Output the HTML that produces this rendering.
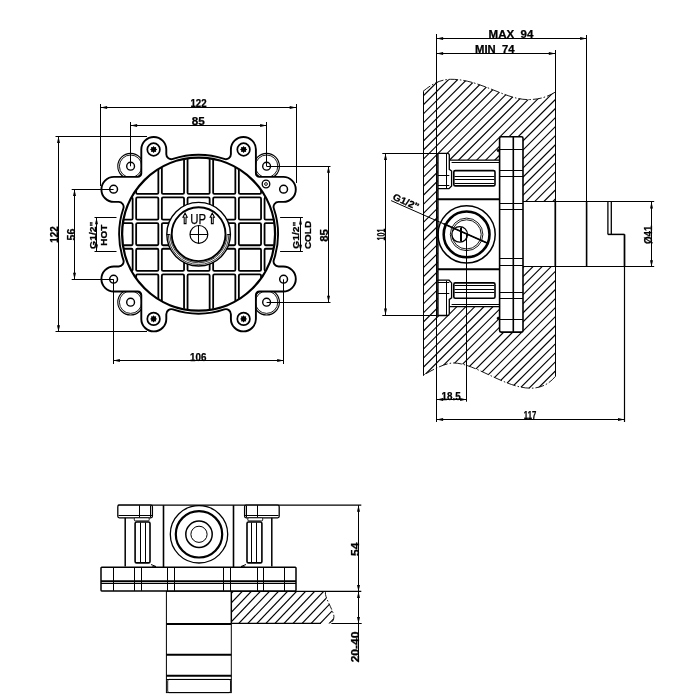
<!DOCTYPE html>
<html><head><meta charset="utf-8"><style>
html,body{margin:0;padding:0;background:#fff;}
svg{display:block;will-change:transform;}
text{font-family:"Liberation Sans",sans-serif;fill:#000;stroke:#000;stroke-width:0.25px;}
</style></head><body>
<svg width="700" height="700" viewBox="0 0 700 700">
<rect width="700" height="700" fill="#fff"/>
<circle cx="130.6" cy="166.2" r="12.8" stroke="#000" stroke-width="1.1" fill="none"/>
<circle cx="130.6" cy="166.2" r="11.2" stroke="#000" stroke-width="0.9" fill="none"/>
<circle cx="130.6" cy="302.2" r="12.8" stroke="#000" stroke-width="1.1" fill="none"/>
<circle cx="130.6" cy="302.2" r="11.2" stroke="#000" stroke-width="0.9" fill="none"/>
<circle cx="266.6" cy="166.2" r="12.8" stroke="#000" stroke-width="1.1" fill="none"/>
<circle cx="266.6" cy="166.2" r="11.2" stroke="#000" stroke-width="0.9" fill="none"/>
<circle cx="266.6" cy="302.2" r="12.8" stroke="#000" stroke-width="1.1" fill="none"/>
<circle cx="266.6" cy="302.2" r="11.2" stroke="#000" stroke-width="0.9" fill="none"/>
<path d="M198.6 154.7A79.5 79.5 0 0 1 224.28 158.96A5 5 0 0 0 230.9 154.23L230.9 149.5A12.5 12.5 0 0 1 255.9 149.5L255.9 173.4A3.5 3.5 0 0 0 259.4 176.9L283.3 176.9A12.5 12.5 0 0 1 283.3 201.9L278.57 201.9A5 5 0 0 0 273.84 208.52A79.5 79.5 0 0 1 278.1 234.2A79.5 79.5 0 0 1 273.84 259.88A5 5 0 0 0 278.57 266.5L283.3 266.5A12.5 12.5 0 0 1 283.3 291.5L259.4 291.5A3.5 3.5 0 0 0 255.9 295L255.9 318.9A12.5 12.5 0 0 1 230.9 318.9L230.9 314.17A5 5 0 0 0 224.28 309.44A79.5 79.5 0 0 1 198.6 313.7A79.5 79.5 0 0 1 172.92 309.44A5 5 0 0 0 166.3 314.17L166.3 318.9A12.5 12.5 0 0 1 141.3 318.9L141.3 295A3.5 3.5 0 0 0 137.8 291.5L113.9 291.5A12.5 12.5 0 0 1 113.9 266.5L118.63 266.5A5 5 0 0 0 123.36 259.88A79.5 79.5 0 0 1 119.1 234.2A79.5 79.5 0 0 1 123.36 208.52A5 5 0 0 0 118.63 201.9L113.9 201.9A12.5 12.5 0 0 1 113.9 176.9L137.8 176.9A3.5 3.5 0 0 0 141.3 173.4L141.3 149.5A12.5 12.5 0 0 1 166.3 149.5L166.3 154.23A5 5 0 0 0 172.92 158.96A79.5 79.5 0 0 1 198.6 154.7Z" stroke="#000" stroke-width="1.9" fill="#fff" />
<circle cx="130.6" cy="166.2" r="3.9" stroke="#000" stroke-width="1.4" fill="#fff"/>
<circle cx="130.6" cy="302.2" r="3.9" stroke="#000" stroke-width="1.4" fill="#fff"/>
<circle cx="266.6" cy="166.2" r="3.9" stroke="#000" stroke-width="1.4" fill="#fff"/>
<circle cx="266.6" cy="302.2" r="3.9" stroke="#000" stroke-width="1.4" fill="#fff"/>
<circle cx="113.6" cy="189.2" r="3.9" stroke="#000" stroke-width="1.5" fill="#fff"/>
<circle cx="153.6" cy="149.5" r="6.3" stroke="#000" stroke-width="1.7" fill="#fff"/>
<polygon points="157.2,149.5 155.91,150.46 156.15,152.05 154.56,151.81 153.6,153.1 152.64,151.81 151.05,152.05 151.29,150.46 150,149.5 151.29,148.54 151.05,146.95 152.64,147.19 153.6,145.9 154.56,147.19 156.15,146.95 155.91,148.54" fill="#000"/>
<circle cx="113.6" cy="279.2" r="3.9" stroke="#000" stroke-width="1.5" fill="#fff"/>
<circle cx="153.6" cy="318.9" r="6.3" stroke="#000" stroke-width="1.7" fill="#fff"/>
<polygon points="157.2,318.9 155.91,319.86 156.15,321.45 154.56,321.21 153.6,322.5 152.64,321.21 151.05,321.45 151.29,319.86 150,318.9 151.29,317.94 151.05,316.35 152.64,316.59 153.6,315.3 154.56,316.59 156.15,316.35 155.91,317.94" fill="#000"/>
<circle cx="283.6" cy="189.2" r="3.9" stroke="#000" stroke-width="1.5" fill="#fff"/>
<circle cx="243.6" cy="149.5" r="6.3" stroke="#000" stroke-width="1.7" fill="#fff"/>
<polygon points="247.2,149.5 245.91,150.46 246.15,152.05 244.56,151.81 243.6,153.1 242.64,151.81 241.05,152.05 241.29,150.46 240,149.5 241.29,148.54 241.05,146.95 242.64,147.19 243.6,145.9 244.56,147.19 246.15,146.95 245.91,148.54" fill="#000"/>
<circle cx="283.6" cy="279.2" r="3.9" stroke="#000" stroke-width="1.5" fill="#fff"/>
<circle cx="243.6" cy="318.9" r="6.3" stroke="#000" stroke-width="1.7" fill="#fff"/>
<polygon points="247.2,318.9 245.91,319.86 246.15,321.45 244.56,321.21 243.6,322.5 242.64,321.21 241.05,321.45 241.29,319.86 240,318.9 241.29,317.94 241.05,316.35 242.64,316.59 243.6,315.3 244.56,316.59 246.15,316.35 245.91,317.94" fill="#000"/>
<circle cx="266" cy="184" r="3.8" stroke="#000" stroke-width="1.3" fill="#fff"/>
<circle cx="266" cy="184" r="1.4" stroke="#000" stroke-width="0.9" fill="none"/>
<defs><clipPath id="cg"><circle cx="198.6" cy="234.2" r="76"/></clipPath></defs>
<g clip-path="url(#cg)">
<rect x="100.35" y="135.95" width="32.3" height="58" rx="1.2" stroke="#000" stroke-width="1.8" fill="none"/>
<rect x="100.35" y="197.45" width="32.3" height="22.2" rx="1.2" stroke="#000" stroke-width="1.8" fill="none"/>
<rect x="100.35" y="223.15" width="32.3" height="22.1" rx="1.2" stroke="#000" stroke-width="1.8" fill="none"/>
<rect x="100.35" y="248.75" width="32.3" height="22.2" rx="1.2" stroke="#000" stroke-width="1.8" fill="none"/>
<rect x="100.35" y="274.45" width="32.3" height="58" rx="1.2" stroke="#000" stroke-width="1.8" fill="none"/>
<rect x="136.15" y="135.95" width="22.2" height="58" rx="1.2" stroke="#000" stroke-width="1.8" fill="none"/>
<rect x="136.15" y="197.45" width="22.2" height="22.2" rx="1.2" stroke="#000" stroke-width="1.8" fill="none"/>
<rect x="136.15" y="223.15" width="22.2" height="22.1" rx="1.2" stroke="#000" stroke-width="1.8" fill="none"/>
<rect x="136.15" y="248.75" width="22.2" height="22.2" rx="1.2" stroke="#000" stroke-width="1.8" fill="none"/>
<rect x="136.15" y="274.45" width="22.2" height="58" rx="1.2" stroke="#000" stroke-width="1.8" fill="none"/>
<rect x="161.85" y="135.95" width="22.2" height="58" rx="1.2" stroke="#000" stroke-width="1.8" fill="none"/>
<rect x="161.85" y="197.45" width="22.2" height="22.2" rx="1.2" stroke="#000" stroke-width="1.8" fill="none"/>
<rect x="161.85" y="223.15" width="22.2" height="22.1" rx="1.2" stroke="#000" stroke-width="1.8" fill="none"/>
<rect x="161.85" y="248.75" width="22.2" height="22.2" rx="1.2" stroke="#000" stroke-width="1.8" fill="none"/>
<rect x="161.85" y="274.45" width="22.2" height="58" rx="1.2" stroke="#000" stroke-width="1.8" fill="none"/>
<rect x="187.55" y="135.95" width="22.1" height="58" rx="1.2" stroke="#000" stroke-width="1.8" fill="none"/>
<rect x="187.55" y="197.45" width="22.1" height="22.2" rx="1.2" stroke="#000" stroke-width="1.8" fill="none"/>
<rect x="187.55" y="223.15" width="22.1" height="22.1" rx="1.2" stroke="#000" stroke-width="1.8" fill="none"/>
<rect x="187.55" y="248.75" width="22.1" height="22.2" rx="1.2" stroke="#000" stroke-width="1.8" fill="none"/>
<rect x="187.55" y="274.45" width="22.1" height="58" rx="1.2" stroke="#000" stroke-width="1.8" fill="none"/>
<rect x="213.15" y="135.95" width="22.2" height="58" rx="1.2" stroke="#000" stroke-width="1.8" fill="none"/>
<rect x="213.15" y="197.45" width="22.2" height="22.2" rx="1.2" stroke="#000" stroke-width="1.8" fill="none"/>
<rect x="213.15" y="223.15" width="22.2" height="22.1" rx="1.2" stroke="#000" stroke-width="1.8" fill="none"/>
<rect x="213.15" y="248.75" width="22.2" height="22.2" rx="1.2" stroke="#000" stroke-width="1.8" fill="none"/>
<rect x="213.15" y="274.45" width="22.2" height="58" rx="1.2" stroke="#000" stroke-width="1.8" fill="none"/>
<rect x="238.85" y="135.95" width="22.2" height="58" rx="1.2" stroke="#000" stroke-width="1.8" fill="none"/>
<rect x="238.85" y="197.45" width="22.2" height="22.2" rx="1.2" stroke="#000" stroke-width="1.8" fill="none"/>
<rect x="238.85" y="223.15" width="22.2" height="22.1" rx="1.2" stroke="#000" stroke-width="1.8" fill="none"/>
<rect x="238.85" y="248.75" width="22.2" height="22.2" rx="1.2" stroke="#000" stroke-width="1.8" fill="none"/>
<rect x="238.85" y="274.45" width="22.2" height="58" rx="1.2" stroke="#000" stroke-width="1.8" fill="none"/>
<rect x="264.55" y="135.95" width="32.3" height="58" rx="1.2" stroke="#000" stroke-width="1.8" fill="none"/>
<rect x="264.55" y="197.45" width="32.3" height="22.2" rx="1.2" stroke="#000" stroke-width="1.8" fill="none"/>
<rect x="264.55" y="223.15" width="32.3" height="22.1" rx="1.2" stroke="#000" stroke-width="1.8" fill="none"/>
<rect x="264.55" y="248.75" width="32.3" height="22.2" rx="1.2" stroke="#000" stroke-width="1.8" fill="none"/>
<rect x="264.55" y="274.45" width="32.3" height="58" rx="1.2" stroke="#000" stroke-width="1.8" fill="none"/>
</g>
<circle cx="198.6" cy="234.2" r="76.5" stroke="#000" stroke-width="2.3" fill="none"/>
<circle cx="198.6" cy="234.2" r="31.8" stroke="#000" stroke-width="1.4" fill="#fff"/>
<circle cx="198.6" cy="234.2" r="26.9" stroke="#000" stroke-width="1.9" fill="#fff"/>
<path d="M168.3 234.2A30.3 30.3 0 0 0 228.9 234.2" stroke="#000" stroke-width="0.75" fill="none" />
<path d="M170 234.2A28.6 28.6 0 0 0 227.2 234.2" stroke="#000" stroke-width="0.75" fill="none" />
<line x1="166.8" y1="234.5" x2="169.9" y2="234.5" stroke="#000" stroke-width="1" />
<line x1="227.3" y1="234.5" x2="230.4" y2="234.5" stroke="#000" stroke-width="1" />
<circle cx="198.9" cy="234.4" r="8.9" stroke="#000" stroke-width="1.2" fill="none"/>
<line x1="190" y1="234.5" x2="207.8" y2="234.5" stroke="#000" stroke-width="1" />
<line x1="198.5" y1="225.5" x2="198.5" y2="243.3" stroke="#000" stroke-width="1" />
<text x="198.2" y="223.5" font-size="14.5" font-weight="normal" text-anchor="middle" textLength="15.8" lengthAdjust="spacingAndGlyphs">UP</text>
<path d="M185.1 213.1L183 217.2L184.2 217.2L184.2 223.6L186 223.6L186 217.2L187.2 217.2Z" stroke="#000" stroke-width="1.1" fill="#fff" />
<path d="M212.3 213.1L210.2 217.2L211.4 217.2L211.4 223.6L213.2 223.6L213.2 217.2L214.4 217.2Z" stroke="#000" stroke-width="1.1" fill="#fff" />
<line x1="100.5" y1="104" x2="100.5" y2="186" stroke="#000" stroke-width="1" />
<line x1="296.5" y1="104" x2="296.5" y2="183" stroke="#000" stroke-width="1" />
<line x1="100.6" y1="107.5" x2="296.2" y2="107.5" stroke="#000" stroke-width="1" />
<path d="M100.6 107.5L107.1 106L107.1 109Z" fill="#000"/>
<path d="M296.2 107.5L289.7 109L289.7 106Z" fill="#000"/>
<text x="198.5" y="107.1" font-size="10" font-weight="bold" text-anchor="middle" textLength="16.2" lengthAdjust="spacingAndGlyphs">122</text>
<line x1="130.5" y1="122" x2="130.5" y2="166.3" stroke="#000" stroke-width="1" />
<line x1="266.5" y1="122" x2="266.5" y2="166.3" stroke="#000" stroke-width="1" />
<line x1="130.6" y1="125.5" x2="266.6" y2="125.5" stroke="#000" stroke-width="1" />
<path d="M130.6 125.5L137.1 124L137.1 127Z" fill="#000"/>
<path d="M266.6 125.5L260.1 127L260.1 124Z" fill="#000"/>
<text x="198.2" y="125.1" font-size="10" font-weight="bold" text-anchor="middle" textLength="13" lengthAdjust="spacingAndGlyphs">85</text>
<line x1="55.5" y1="136.5" x2="147" y2="136.5" stroke="#000" stroke-width="1" />
<line x1="55.5" y1="331.5" x2="147" y2="331.5" stroke="#000" stroke-width="1" />
<line x1="58.5" y1="136.5" x2="58.5" y2="331.8" stroke="#000" stroke-width="1" />
<path d="M58.5 136.5L60 143L57 143Z" fill="#000"/>
<path d="M58.5 331.8L57 325.3L60 325.3Z" fill="#000"/>
<text x="58.5" y="234.6" font-size="10" font-weight="bold" text-anchor="middle" textLength="16.5" lengthAdjust="spacingAndGlyphs" transform="rotate(-90 58.5 234.6)">122</text>
<line x1="71.7" y1="189.5" x2="113.6" y2="189.5" stroke="#000" stroke-width="1" />
<line x1="71.7" y1="279.5" x2="113.6" y2="279.5" stroke="#000" stroke-width="1" />
<line x1="74.5" y1="189.4" x2="74.5" y2="279.3" stroke="#000" stroke-width="1" />
<path d="M74.5 189.4L76 195.9L73 195.9Z" fill="#000"/>
<path d="M74.5 279.3L73 272.8L76 272.8Z" fill="#000"/>
<text x="75.3" y="234.6" font-size="10" font-weight="bold" text-anchor="middle" textLength="11.8" lengthAdjust="spacingAndGlyphs" transform="rotate(-90 75.3 234.6)">56</text>
<line x1="94.5" y1="217.5" x2="116.5" y2="217.5" stroke="#000" stroke-width="1" />
<line x1="94.5" y1="251.5" x2="116.5" y2="251.5" stroke="#000" stroke-width="1" />
<line x1="96.5" y1="217.7" x2="96.5" y2="251.1" stroke="#000" stroke-width="1" />
<path d="M96.5 217.7L98 224.2L95 224.2Z" fill="#000"/>
<path d="M96.5 251.1L95 244.6L98 244.6Z" fill="#000"/>
<text x="96.2" y="235.2" font-size="9.5" font-weight="bold" text-anchor="middle" textLength="27.4" lengthAdjust="spacingAndGlyphs" transform="rotate(-90 96.2 235.2)">G1/2&quot;</text>
<text x="107.4" y="235.2" font-size="9.5" font-weight="bold" text-anchor="middle" textLength="21" lengthAdjust="spacingAndGlyphs" transform="rotate(-90 107.4 235.2)">HOT</text>
<line x1="280.1" y1="217.5" x2="302.9" y2="217.5" stroke="#000" stroke-width="1" />
<line x1="280.1" y1="251.5" x2="302.9" y2="251.5" stroke="#000" stroke-width="1" />
<line x1="300.5" y1="217.9" x2="300.5" y2="251.3" stroke="#000" stroke-width="1" />
<path d="M300.5 217.9L302 224.4L299 224.4Z" fill="#000"/>
<path d="M300.5 251.3L299 244.8L302 244.8Z" fill="#000"/>
<text x="299.2" y="235.2" font-size="9.5" font-weight="bold" text-anchor="middle" textLength="27.2" lengthAdjust="spacingAndGlyphs" transform="rotate(-90 299.2 235.2)">G1/2&quot;</text>
<text x="311.3" y="235" font-size="9.5" font-weight="bold" text-anchor="middle" textLength="28.2" lengthAdjust="spacingAndGlyphs" transform="rotate(-90 311.3 235)">COLD</text>
<line x1="266.6" y1="166.5" x2="330.5" y2="166.5" stroke="#000" stroke-width="1" />
<line x1="266.6" y1="302.5" x2="330.5" y2="302.5" stroke="#000" stroke-width="1" />
<line x1="328.5" y1="166.3" x2="328.5" y2="302.3" stroke="#000" stroke-width="1" />
<path d="M328.5 166.3L330 172.8L327 172.8Z" fill="#000"/>
<path d="M328.5 302.3L327 295.8L330 295.8Z" fill="#000"/>
<text x="328" y="235.4" font-size="10" font-weight="bold" text-anchor="middle" textLength="12.8" lengthAdjust="spacingAndGlyphs" transform="rotate(-90 328 235.4)">85</text>
<line x1="113.5" y1="279.3" x2="113.5" y2="364" stroke="#000" stroke-width="1" />
<line x1="283.5" y1="279.3" x2="283.5" y2="364" stroke="#000" stroke-width="1" />
<line x1="113.4" y1="360.5" x2="283.7" y2="360.5" stroke="#000" stroke-width="1" />
<path d="M113.4 360.5L119.9 359L119.9 362Z" fill="#000"/>
<path d="M283.7 360.5L277.2 362L277.2 359Z" fill="#000"/>
<text x="198.2" y="360.6" font-size="10" font-weight="bold" text-anchor="middle" textLength="16.3" lengthAdjust="spacingAndGlyphs">106</text>
<!-- side -->
<defs><clipPath id="hw"><path d="M423 91.4C432 84 440 79.5 450.7 79.3C480 79 505 99.6 528 99.6C540 99.6 548 96.5 555.3 92.1L555.3 376.5C550 383 542 388.2 530.7 388.2C505 388.2 475 363 453.6 363C445 363 432 370 423 375.5Z"/></clipPath></defs>
<g clip-path="url(#hw)">
<line x1="112" y1="389" x2="422" y2="79" stroke="#000" stroke-width="1.1" />
<line x1="121.05" y1="389" x2="431.05" y2="79" stroke="#000" stroke-width="1.1" />
<line x1="130.1" y1="389" x2="440.1" y2="79" stroke="#000" stroke-width="1.1" />
<line x1="139.15" y1="389" x2="449.15" y2="79" stroke="#000" stroke-width="1.1" />
<line x1="148.2" y1="389" x2="458.2" y2="79" stroke="#000" stroke-width="1.1" />
<line x1="157.25" y1="389" x2="467.25" y2="79" stroke="#000" stroke-width="1.1" />
<line x1="166.3" y1="389" x2="476.3" y2="79" stroke="#000" stroke-width="1.1" />
<line x1="175.35" y1="389" x2="485.35" y2="79" stroke="#000" stroke-width="1.1" />
<line x1="184.4" y1="389" x2="494.4" y2="79" stroke="#000" stroke-width="1.1" />
<line x1="193.45" y1="389" x2="503.45" y2="79" stroke="#000" stroke-width="1.1" />
<line x1="202.5" y1="389" x2="512.5" y2="79" stroke="#000" stroke-width="1.1" />
<line x1="211.55" y1="389" x2="521.55" y2="79" stroke="#000" stroke-width="1.1" />
<line x1="220.6" y1="389" x2="530.6" y2="79" stroke="#000" stroke-width="1.1" />
<line x1="229.65" y1="389" x2="539.65" y2="79" stroke="#000" stroke-width="1.1" />
<line x1="238.7" y1="389" x2="548.7" y2="79" stroke="#000" stroke-width="1.1" />
<line x1="247.75" y1="389" x2="557.75" y2="79" stroke="#000" stroke-width="1.1" />
<line x1="256.8" y1="389" x2="566.8" y2="79" stroke="#000" stroke-width="1.1" />
<line x1="265.85" y1="389" x2="575.85" y2="79" stroke="#000" stroke-width="1.1" />
<line x1="274.9" y1="389" x2="584.9" y2="79" stroke="#000" stroke-width="1.1" />
<line x1="283.95" y1="389" x2="593.95" y2="79" stroke="#000" stroke-width="1.1" />
<line x1="293" y1="389" x2="603" y2="79" stroke="#000" stroke-width="1.1" />
<line x1="302.05" y1="389" x2="612.05" y2="79" stroke="#000" stroke-width="1.1" />
<line x1="311.1" y1="389" x2="621.1" y2="79" stroke="#000" stroke-width="1.1" />
<line x1="320.15" y1="389" x2="630.15" y2="79" stroke="#000" stroke-width="1.1" />
<line x1="329.2" y1="389" x2="639.2" y2="79" stroke="#000" stroke-width="1.1" />
<line x1="338.25" y1="389" x2="648.25" y2="79" stroke="#000" stroke-width="1.1" />
<line x1="347.3" y1="389" x2="657.3" y2="79" stroke="#000" stroke-width="1.1" />
<line x1="356.35" y1="389" x2="666.35" y2="79" stroke="#000" stroke-width="1.1" />
<line x1="365.4" y1="389" x2="675.4" y2="79" stroke="#000" stroke-width="1.1" />
<line x1="374.45" y1="389" x2="684.45" y2="79" stroke="#000" stroke-width="1.1" />
<line x1="383.5" y1="389" x2="693.5" y2="79" stroke="#000" stroke-width="1.1" />
<line x1="392.55" y1="389" x2="702.55" y2="79" stroke="#000" stroke-width="1.1" />
<line x1="401.6" y1="389" x2="711.6" y2="79" stroke="#000" stroke-width="1.1" />
<line x1="410.65" y1="389" x2="720.65" y2="79" stroke="#000" stroke-width="1.1" />
<line x1="419.7" y1="389" x2="729.7" y2="79" stroke="#000" stroke-width="1.1" />
<line x1="428.75" y1="389" x2="738.75" y2="79" stroke="#000" stroke-width="1.1" />
<line x1="437.8" y1="389" x2="747.8" y2="79" stroke="#000" stroke-width="1.1" />
<line x1="446.85" y1="389" x2="756.85" y2="79" stroke="#000" stroke-width="1.1" />
<line x1="455.9" y1="389" x2="765.9" y2="79" stroke="#000" stroke-width="1.1" />
<line x1="464.95" y1="389" x2="774.95" y2="79" stroke="#000" stroke-width="1.1" />
<line x1="474" y1="389" x2="784" y2="79" stroke="#000" stroke-width="1.1" />
<line x1="483.05" y1="389" x2="793.05" y2="79" stroke="#000" stroke-width="1.1" />
<line x1="492.1" y1="389" x2="802.1" y2="79" stroke="#000" stroke-width="1.1" />
<line x1="501.15" y1="389" x2="811.15" y2="79" stroke="#000" stroke-width="1.1" />
<line x1="510.2" y1="389" x2="820.2" y2="79" stroke="#000" stroke-width="1.1" />
<line x1="519.25" y1="389" x2="829.25" y2="79" stroke="#000" stroke-width="1.1" />
<line x1="528.3" y1="389" x2="838.3" y2="79" stroke="#000" stroke-width="1.1" />
<line x1="537.35" y1="389" x2="847.35" y2="79" stroke="#000" stroke-width="1.1" />
<line x1="546.4" y1="389" x2="856.4" y2="79" stroke="#000" stroke-width="1.1" />
<line x1="555.45" y1="389" x2="865.45" y2="79" stroke="#000" stroke-width="1.1" />
</g>
<path d="M423 91.4C432 84 440 79.5 450.7 79.3C480 79 505 99.6 528 99.6C540 99.6 548 96.5 555.3 92.1" stroke="#000" stroke-width="0.9" fill="none" stroke-dasharray="9 2 1.5 2"/>
<path d="M555.3 376.5C550 383 542 388.2 530.7 388.2C505 388.2 475 363 453.6 363C445 363 432 370 423 375.5" stroke="#000" stroke-width="0.9" fill="none" stroke-dasharray="9 2 1.5 2"/>
<line x1="423.5" y1="91.4" x2="423.5" y2="375.5" stroke="#000" stroke-width="1" />
<line x1="555.5" y1="50" x2="555.5" y2="376.5" stroke="#000" stroke-width="1" />
<path d="M437.9 153.8L450 153.8L450 160.1L499.6 160.1L499.6 136.7L523 136.7L523 201.9L611.1 201.9L611.1 234.4L624.5 234.4L624.5 266.7L523 266.7L523 332.1L499.6 332.1L499.6 306.6L450 306.6L450 315L437.9 315Z" fill="#fff"/>
<rect x="499.6" y="136.7" width="23.4" height="195.4" rx="1.5" stroke="#000" stroke-width="1.6" fill="#fff"/>
<line x1="513.3" y1="136.7" x2="513.3" y2="332.1" stroke="#000" stroke-width="1.6" />
<line x1="499.6" y1="149.5" x2="523" y2="149.5" stroke="#000" stroke-width="1" />
<line x1="499.6" y1="319.5" x2="523" y2="319.5" stroke="#000" stroke-width="1" />
<line x1="499.6" y1="170.5" x2="523" y2="170.5" stroke="#000" stroke-width="1" />
<line x1="499.6" y1="298.5" x2="523" y2="298.5" stroke="#000" stroke-width="1" />
<line x1="499.6" y1="176.5" x2="523" y2="176.5" stroke="#000" stroke-width="1" />
<line x1="499.6" y1="292.5" x2="523" y2="292.5" stroke="#000" stroke-width="1" />
<line x1="499.6" y1="203.5" x2="523" y2="203.5" stroke="#000" stroke-width="1" />
<line x1="499.6" y1="265.5" x2="523" y2="265.5" stroke="#000" stroke-width="1" />
<line x1="499.6" y1="209.5" x2="523" y2="209.5" stroke="#000" stroke-width="1" />
<line x1="499.6" y1="258.5" x2="523" y2="258.5" stroke="#000" stroke-width="1" />
<path d="M437.9 153.3L447.3 153.3Q449.3 153.3 449.3 155.3L449.3 169.4L451.6 171L451.6 185.9L449 188.6L437.9 188.6" stroke="#000" stroke-width="1.3" fill="#fff"/>
<line x1="446.5" y1="153.8" x2="446.5" y2="188.2" stroke="#000" stroke-width="1" />
<line x1="437.9" y1="175.5" x2="449.3" y2="175.5" stroke="#000" stroke-width="1" />
<line x1="437.9" y1="185.5" x2="449.3" y2="185.5" stroke="#000" stroke-width="1" />
<line x1="449.3" y1="160.1" x2="499.6" y2="160.1" stroke="#000" stroke-width="1.4" />
<line x1="451.6" y1="162.5" x2="499.6" y2="162.5" stroke="#000" stroke-width="1" />
<rect x="453.8" y="170.6" width="41.2" height="15.3" rx="1.5" stroke="#000" stroke-width="1.6" fill="#fff"/>
<line x1="454.5" y1="176.5" x2="494.3" y2="176.5" stroke="#000" stroke-width="1" />
<line x1="454.5" y1="179.5" x2="494.3" y2="179.5" stroke="#000" stroke-width="1" />
<line x1="454.5" y1="183.5" x2="494.3" y2="183.5" stroke="#000" stroke-width="1" />
<circle cx="498.3" cy="150.5" r="1.3" stroke="#000" stroke-width="0.5" fill="#000"/>
<path d="M437.9 315.5L447.3 315.5Q449.3 315.5 449.3 313.5L449.3 299.4L451.6 297.8L451.6 282.9L449 280.2L437.9 280.2" stroke="#000" stroke-width="1.3" fill="#fff"/>
<line x1="446.5" y1="315" x2="446.5" y2="280.6" stroke="#000" stroke-width="1" />
<line x1="437.9" y1="293.5" x2="449.3" y2="293.5" stroke="#000" stroke-width="1" />
<line x1="437.9" y1="282.5" x2="449.3" y2="282.5" stroke="#000" stroke-width="1" />
<line x1="449.3" y1="306.6" x2="499.6" y2="306.6" stroke="#000" stroke-width="1.4" />
<line x1="451.6" y1="304.5" x2="499.6" y2="304.5" stroke="#000" stroke-width="1" />
<rect x="453.8" y="282.9" width="41.2" height="15.3" rx="1.5" stroke="#000" stroke-width="1.6" fill="#fff"/>
<line x1="454.5" y1="292.5" x2="494.3" y2="292.5" stroke="#000" stroke-width="1" />
<line x1="454.5" y1="289.5" x2="494.3" y2="289.5" stroke="#000" stroke-width="1" />
<line x1="454.5" y1="285.5" x2="494.3" y2="285.5" stroke="#000" stroke-width="1" />
<circle cx="498.3" cy="318.3" r="1.3" stroke="#000" stroke-width="0.5" fill="#000"/>
<line x1="437.9" y1="199.3" x2="499.6" y2="199.3" stroke="#000" stroke-width="2" />
<line x1="437.9" y1="269.3" x2="499.6" y2="269.3" stroke="#000" stroke-width="2" />
<line x1="499.5" y1="199.3" x2="499.5" y2="269.3" stroke="#000" stroke-width="1" />
<line x1="437.9" y1="153.8" x2="437.9" y2="315" stroke="#000" stroke-width="1.5" />
<circle cx="466.6" cy="234.4" r="28.6" stroke="#000" stroke-width="1.5" fill="none"/>
<circle cx="466.6" cy="234.4" r="22.9" stroke="#000" stroke-width="2.6" fill="none"/>
<circle cx="466.6" cy="234.4" r="16.3" stroke="#000" stroke-width="0.9" fill="none"/>
<circle cx="466.6" cy="234.4" r="14.6" stroke="#000" stroke-width="0.9" fill="none"/>
<circle cx="459.7" cy="234.4" r="7.8" stroke="#000" stroke-width="1.3" fill="#fff"/>
<line x1="460.5" y1="227.6" x2="460.5" y2="241.4" stroke="#000" stroke-width="1" />
<line x1="461.5" y1="227" x2="461.5" y2="241.9" stroke="#000" stroke-width="1" />
<line x1="466.5" y1="234.4" x2="466.5" y2="401.7" stroke="#000" stroke-width="1" />
<line x1="391.1" y1="200.6" x2="487.1" y2="243" stroke="#000" stroke-width="1" />
<line x1="443.7" y1="223.8" x2="487.1" y2="243" stroke="#000" stroke-width="1.8" />
<text x="392.02" y="199.3" font-size="9.5" font-weight="bold" text-anchor="start" textLength="27.5" lengthAdjust="spacingAndGlyphs" transform="rotate(23.5 392.02 199.3)">G1/2&quot;</text>
<line x1="523" y1="201.5" x2="654.2" y2="201.5" stroke="#000" stroke-width="1" />
<line x1="523" y1="266.5" x2="654.2" y2="266.5" stroke="#000" stroke-width="1" />
<line x1="607.9" y1="201.9" x2="607.9" y2="234.4" stroke="#000" stroke-width="1.3" />
<line x1="611.3" y1="201.9" x2="611.3" y2="234.4" stroke="#000" stroke-width="1.3" />
<line x1="607.9" y1="234.4" x2="624.5" y2="234.4" stroke="#000" stroke-width="1.5" />
<line x1="624.5" y1="234.4" x2="624.5" y2="266.7" stroke="#000" stroke-width="1.6" />
<line x1="586.6" y1="201.9" x2="586.6" y2="266.7" stroke="#000" stroke-width="1.6" />
<line x1="624.5" y1="234.4" x2="624.5" y2="422" stroke="#000" stroke-width="1.2" />
<line x1="586.5" y1="35" x2="586.5" y2="266.7" stroke="#000" stroke-width="1" />
<line x1="555.3" y1="201.9" x2="555.3" y2="266.7" stroke="#000" stroke-width="1.7" />
<line x1="436.5" y1="34" x2="436.5" y2="422" stroke="#000" stroke-width="1" />
<line x1="436.6" y1="38.5" x2="586.6" y2="38.5" stroke="#000" stroke-width="1" />
<path d="M436.6 38.5L443.1 37L443.1 40Z" fill="#000"/>
<path d="M586.6 38.5L580.1 40L580.1 37Z" fill="#000"/>
<text x="511" y="37.6" font-size="10" font-weight="bold" text-anchor="middle" textLength="44.8" lengthAdjust="spacingAndGlyphs">MAX&#160;&#160;94</text>
<line x1="436.6" y1="53.5" x2="555.3" y2="53.5" stroke="#000" stroke-width="1" />
<path d="M436.6 53.5L443.1 52L443.1 55Z" fill="#000"/>
<path d="M555.3 53.5L548.8 55L548.8 52Z" fill="#000"/>
<text x="494.8" y="52.8" font-size="10" font-weight="bold" text-anchor="middle" textLength="39.5" lengthAdjust="spacingAndGlyphs">MIN&#160;&#160;74</text>
<line x1="382.3" y1="153.5" x2="437.9" y2="153.5" stroke="#000" stroke-width="1" />
<line x1="382.3" y1="315.5" x2="437.9" y2="315.5" stroke="#000" stroke-width="1" />
<line x1="385.5" y1="153.5" x2="385.5" y2="315.1" stroke="#000" stroke-width="1" />
<path d="M385.5 153.5L387 160L384 160Z" fill="#000"/>
<path d="M385.5 315.1L384 308.6L387 308.6Z" fill="#000"/>
<text x="385.3" y="234.5" font-size="10" font-weight="bold" text-anchor="middle" textLength="11.8" lengthAdjust="spacingAndGlyphs" transform="rotate(-90 385.3 234.5)">101</text>
<line x1="651.5" y1="201.9" x2="651.5" y2="266.7" stroke="#000" stroke-width="1" />
<path d="M651.5 201.9L653 208.4L650 208.4Z" fill="#000"/>
<path d="M651.5 266.7L650 260.2L653 260.2Z" fill="#000"/>
<text x="652" y="234.85" font-size="10" font-weight="bold" text-anchor="middle" textLength="18.5" lengthAdjust="spacingAndGlyphs" transform="rotate(-90 652 234.85)">&#216;41</text>
<line x1="436.6" y1="399.5" x2="466.6" y2="399.5" stroke="#000" stroke-width="1" />
<path d="M436.6 399.5L443.1 398L443.1 401Z" fill="#000"/>
<path d="M466.6 399.5L460.1 401L460.1 398Z" fill="#000"/>
<text x="451.2" y="400" font-size="10" font-weight="bold" text-anchor="middle" textLength="19.2" lengthAdjust="spacingAndGlyphs">18.5</text>
<line x1="436.6" y1="419.5" x2="624.5" y2="419.5" stroke="#000" stroke-width="1" />
<path d="M436.6 419.5L443.1 418L443.1 421Z" fill="#000"/>
<path d="M624.5 419.5L618 421L618 418Z" fill="#000"/>
<text x="530" y="419.4" font-size="10" font-weight="bold" text-anchor="middle" textLength="12.5" lengthAdjust="spacingAndGlyphs">117</text>
<!-- bottom -->
<defs><clipPath id="hb"><path d="M231.4 591.4L325.7 591.4C324 596 330 604 333.7 614.6C334.5 618 333 621 331.4 623.4L231.4 623.4Z"/></clipPath></defs>
<g clip-path="url(#hb)">
<line x1="193.05" y1="624" x2="224.48" y2="591" stroke="#000" stroke-width="1.1" />
<line x1="202.1" y1="624" x2="233.52" y2="591" stroke="#000" stroke-width="1.1" />
<line x1="211.14" y1="624" x2="242.57" y2="591" stroke="#000" stroke-width="1.1" />
<line x1="220.19" y1="624" x2="251.62" y2="591" stroke="#000" stroke-width="1.1" />
<line x1="229.24" y1="624" x2="260.67" y2="591" stroke="#000" stroke-width="1.1" />
<line x1="238.29" y1="624" x2="269.71" y2="591" stroke="#000" stroke-width="1.1" />
<line x1="247.33" y1="624" x2="278.76" y2="591" stroke="#000" stroke-width="1.1" />
<line x1="256.38" y1="624" x2="287.81" y2="591" stroke="#000" stroke-width="1.1" />
<line x1="265.43" y1="624" x2="296.86" y2="591" stroke="#000" stroke-width="1.1" />
<line x1="274.48" y1="624" x2="305.9" y2="591" stroke="#000" stroke-width="1.1" />
<line x1="283.52" y1="624" x2="314.95" y2="591" stroke="#000" stroke-width="1.1" />
<line x1="292.57" y1="624" x2="324" y2="591" stroke="#000" stroke-width="1.1" />
<line x1="301.62" y1="624" x2="333.05" y2="591" stroke="#000" stroke-width="1.1" />
<line x1="310.67" y1="624" x2="342.1" y2="591" stroke="#000" stroke-width="1.1" />
<line x1="319.71" y1="624" x2="351.14" y2="591" stroke="#000" stroke-width="1.1" />
<line x1="328.76" y1="624" x2="360.19" y2="591" stroke="#000" stroke-width="1.1" />
</g>
<line x1="166.4" y1="591.4" x2="361.3" y2="591.4" stroke="#000" stroke-width="1.3" />
<line x1="231.4" y1="623.4" x2="321" y2="623.4" stroke="#000" stroke-width="1.2" />
<line x1="331.4" y1="623.5" x2="361.7" y2="623.5" stroke="#000" stroke-width="1" />
<path d="M325.7 591.4C324 596 330 604 333.7 614.6C334.5 618 333 621 331.4 623.4" stroke="#000" stroke-width="0.9" fill="none" stroke-dasharray="7 2 1.5 2"/>
<line x1="117.8" y1="505.2" x2="361.3" y2="505.2" stroke="#000" stroke-width="1.2" />
<rect x="117.8" y="505.2" width="34.6" height="12.6" rx="1.5" stroke="#000" stroke-width="1.3" fill="#fff"/>
<line x1="139.5" y1="505.2" x2="139.5" y2="517.8" stroke="#000" stroke-width="1" />
<rect x="134.3" y="517.8" width="14.9" height="3.1" rx="1" stroke="#000" stroke-width="0.9" fill="#fff"/>
<line x1="125.2" y1="517.8" x2="125.2" y2="566.5" stroke="#000" stroke-width="1.5" />
<rect x="135.1" y="522" width="14.9" height="40.9" rx="1.5" stroke="#000" stroke-width="1.6" fill="#fff"/>
<line x1="140.5" y1="522.5" x2="140.5" y2="562.5" stroke="#000" stroke-width="1" />
<line x1="145.5" y1="522.5" x2="145.5" y2="562.5" stroke="#000" stroke-width="1" />
<line x1="150.5" y1="505.5" x2="150.5" y2="517.5" stroke="#000" stroke-width="1" />
<line x1="118.5" y1="515.5" x2="152" y2="515.5" stroke="#000" stroke-width="1" />
<path d="M151 564.5L156 566.5L152 567" stroke="#000" stroke-width="1" fill="none"/>
<rect x="244.6" y="505.2" width="34.6" height="12.6" rx="1.5" stroke="#000" stroke-width="1.3" fill="#fff"/>
<line x1="257.5" y1="505.2" x2="257.5" y2="517.8" stroke="#000" stroke-width="1" />
<rect x="247.8" y="517.8" width="14.9" height="3.1" rx="1" stroke="#000" stroke-width="0.9" fill="#fff"/>
<line x1="271.8" y1="517.8" x2="271.8" y2="566.5" stroke="#000" stroke-width="1.5" />
<rect x="247" y="522" width="14.9" height="40.9" rx="1.5" stroke="#000" stroke-width="1.6" fill="#fff"/>
<line x1="256.5" y1="522.5" x2="256.5" y2="562.5" stroke="#000" stroke-width="1" />
<line x1="251.5" y1="522.5" x2="251.5" y2="562.5" stroke="#000" stroke-width="1" />
<line x1="246.5" y1="505.5" x2="246.5" y2="517.5" stroke="#000" stroke-width="1" />
<line x1="278.5" y1="515.5" x2="245" y2="515.5" stroke="#000" stroke-width="1" />
<path d="M246 564.5L241 566.5L245 567" stroke="#000" stroke-width="1" fill="none"/>
<line x1="163.5" y1="505.2" x2="163.5" y2="567.3" stroke="#000" stroke-width="1.6" />
<line x1="233.5" y1="505.2" x2="233.5" y2="567.3" stroke="#000" stroke-width="1.6" />
<circle cx="199" cy="534.3" r="28.7" stroke="#000" stroke-width="1.3" fill="none"/>
<circle cx="199" cy="534.3" r="23.2" stroke="#000" stroke-width="2.2" fill="none"/>
<circle cx="199" cy="534.3" r="13.2" stroke="#000" stroke-width="1.5" fill="none"/>
<circle cx="199" cy="534.3" r="8.1" stroke="#000" stroke-width="1" fill="none"/>
<rect x="101" y="567.3" width="195" height="23.6" rx="0.8" stroke="#000" stroke-width="1.5" fill="#fff"/>
<line x1="101" y1="581.3" x2="296" y2="581.3" stroke="#000" stroke-width="2" />
<line x1="101" y1="583.5" x2="296" y2="583.5" stroke="#000" stroke-width="1" />
<line x1="113.5" y1="567.3" x2="113.5" y2="590.9" stroke="#000" stroke-width="1" />
<line x1="284.5" y1="567.3" x2="284.5" y2="590.9" stroke="#000" stroke-width="1" />
<line x1="134.5" y1="567.3" x2="134.5" y2="590.9" stroke="#000" stroke-width="1" />
<line x1="263.5" y1="567.3" x2="263.5" y2="590.9" stroke="#000" stroke-width="1" />
<line x1="141.5" y1="567.3" x2="141.5" y2="590.9" stroke="#000" stroke-width="1" />
<line x1="257.5" y1="567.3" x2="257.5" y2="590.9" stroke="#000" stroke-width="1" />
<line x1="167.5" y1="567.3" x2="167.5" y2="590.9" stroke="#000" stroke-width="1" />
<line x1="230.5" y1="567.3" x2="230.5" y2="590.9" stroke="#000" stroke-width="1" />
<line x1="174.5" y1="567.3" x2="174.5" y2="590.9" stroke="#000" stroke-width="1" />
<line x1="223.5" y1="567.3" x2="223.5" y2="590.9" stroke="#000" stroke-width="1" />
<rect x="166.4" y="591.4" width="64.9" height="101.2" rx="0" stroke="#000" stroke-width="1" fill="#fff"/>
<line x1="166.4" y1="624.1" x2="231.3" y2="624.1" stroke="#000" stroke-width="2" />
<line x1="166.4" y1="654.8" x2="231.3" y2="654.8" stroke="#000" stroke-width="2" />
<line x1="166.4" y1="675.8" x2="231.3" y2="675.8" stroke="#000" stroke-width="2" />
<line x1="166.4" y1="679.5" x2="231.3" y2="679.5" stroke="#000" stroke-width="1" />
<rect x="167.7" y="679.4" width="62.8" height="13.2" rx="1.5" stroke="#000" stroke-width="0.9" fill="none"/>
<line x1="231.4" y1="591.4" x2="231.4" y2="623.4" stroke="#000" stroke-width="1.3" />
<line x1="358.5" y1="505.2" x2="358.5" y2="591.4" stroke="#000" stroke-width="1" />
<path d="M358.5 505.2L360 511.7L357 511.7Z" fill="#000"/>
<path d="M358.5 591.4L357 584.9L360 584.9Z" fill="#000"/>
<text x="358.6" y="549.3" font-size="10" font-weight="bold" text-anchor="middle" textLength="13.4" lengthAdjust="spacingAndGlyphs" transform="rotate(-90 358.6 549.3)">54</text>
<line x1="358.5" y1="591.4" x2="358.5" y2="662.3" stroke="#000" stroke-width="1" />
<path d="M358.5 591.4L360 597.9L357 597.9Z" fill="#000"/>
<path d="M358.5 623.4L357 616.9L360 616.9Z" fill="#000"/>
<text x="359.5" y="646.9" font-size="10" font-weight="bold" text-anchor="middle" textLength="30.9" lengthAdjust="spacingAndGlyphs" transform="rotate(-90 359.5 646.9)">20-40</text>
</svg></body></html>
